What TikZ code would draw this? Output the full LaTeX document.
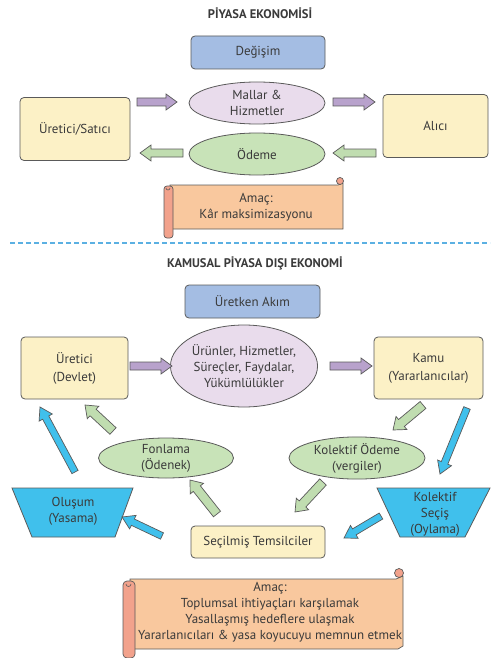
\documentclass[tikz,border=0pt]{standalone}
\usepackage{fontspec}
\setmainfont{PT Sans}
\usetikzlibrary{shapes.geometric,calc}
\definecolor{txt}{HTML}{3A3A3A}
\definecolor{bord}{HTML}{5A5A5A}
\definecolor{ylw}{HTML}{FCF1C6}
\definecolor{bluebox}{HTML}{A4BDE3}
\definecolor{pell}{HTML}{E9DCEC}
\definecolor{parr}{HTML}{B8A2CC}
\definecolor{gell}{HTML}{C8E3B8}
\definecolor{garr}{HTML}{C0DDB0}
\definecolor{cyanb}{HTML}{40C0EC}
\definecolor{peach}{HTML}{F9C89E}
\definecolor{salmon}{HTML}{F2A28C}
\definecolor{dashb}{HTML}{5BB0E2}
% #1 fill, #2 from, #3 to, #4 shaft half width, #5 head half width, #6 head length
\newcommand\fatarrow[6]{%
  \path[draw=bord, line width=0.7pt, fill=#1, line join=miter]
    let \p1=(#2), \p2=(#3), \n1={atan2(\y2-\y1,\x2-\x1)}, \n2={veclen(\x2-\x1,\y2-\y1)} in
    [shift={(\p1)}, rotate=\n1]
    (0,-#4) -- ({\n2-#6},-#4) -- ({\n2-#6},-#5) -- (\n2,0) -- ({\n2-#6},#5) -- ({\n2-#6},#4) -- (0,#4) -- cycle;}
\begin{document}
\begin{tikzpicture}[x=1pt,y=-1pt,
  font=\fontsize{13}{16}\selectfont, text=txt,
  box/.style={draw=bord, line width=0.8pt, rounded corners=4pt, fill=ylw, align=center, inner sep=0pt},
  ell/.style={ellipse, draw=bord, line width=0.8pt, align=center, inner sep=0pt},
  ttl/.style={font=\fontsize{12.5}{15}\selectfont\bfseries},
  trap/.style={draw=bord, line width=0.8pt, fill=cyanb}]
\useasboundingbox (0,0) rectangle (490,658);

% ---------- Piyasa ekonomisi ----------
\node[ttl] (t1) at (260,13) {PİYASA EKONOMİSİ};
\node[box, fill=bluebox, minimum width=134pt, minimum height=33pt] (degisim) at (258,52.5) {Değişim};
\node[ell, fill=pell, minimum width=136pt, minimum height=42pt] (mallar) at (257,103) {Mallar \&\\Hizmetler};
\node[ell, fill=gell, minimum width=136pt, minimum height=42pt] (odeme) at (257,154) {Ödeme};
\node[box, minimum width=110pt, minimum height=63pt] (uretici1) at (75,129) {Üretici/Satıcı};
\node[box, minimum width=105pt, minimum height=63pt] (alici) at (435.5,126) {Alıcı};

\coordinate (a1s) at (137,102); \coordinate (a1e) at (177,102);
\coordinate (a2s) at (333,102); \coordinate (a2e) at (375,102);
\coordinate (a3s) at (183,153); \coordinate (a3e) at (140,153);
\coordinate (a4s) at (376,153); \coordinate (a4e) at (333,153);
\fatarrow{parr}{a1s}{a1e}{4}{8}{11}
\fatarrow{parr}{a2s}{a2e}{4}{8}{11}
\fatarrow{garr}{a3s}{a3e}{4}{8}{11}
\fatarrow{garr}{a4s}{a4e}{4}{8}{11}

% scroll 1
\draw[fill=peach, line width=0.7pt, draw=bord] (170,185) -- (338,185) -- (343,183) -- (343,229) -- (170,229) -- cycle;
\draw[fill=salmon, line width=0.7pt, draw=bord] (340,181) circle (3.5);
\draw[fill=salmon, line width=0.7pt, draw=bord, rounded corners=3pt] (164,186) -- (164,238) -- (173,238) -- (173,186) -- cycle;
\draw[line width=0.6pt, draw=bord] (166,188) arc (180:0:2);
\node[align=center] (amac1) at (256,207) {Amaç:\\Kâr maksimizasyonu};

% dashed separator
\coordinate (dl) at (10,243); \coordinate (dr) at (490,243);
\draw[dashb, line width=1.3pt, dash pattern=on 5pt off 3pt] (dl) -- (dr);

% ---------- Kamusal piyasa disi ekonomi ----------
\node[ttl] (t2) at (255,263) {KAMUSAL PİYASA DIŞI EKONOMİ};
\node[box, fill=bluebox, minimum width=135pt, minimum height=33pt] (akim) at (252.5,301.5) {Üretken Akım};
\node[ell, fill=pell, minimum width=140pt, minimum height=82pt] (urunler) at (244,366) {Ürünler, Hizmetler,\\Süreçler, Faydalar,\\Yükümlülükler};
\node[box, minimum width=107pt, minimum height=62pt, font=\fontsize{13}{18}\selectfont] (devlet) at (74.5,368) {Üretici\\(Devlet)};
\node[box, minimum width=109pt, minimum height=62pt, font=\fontsize{13}{18}\selectfont] (kamu) at (428.5,368) {Kamu\\(Yararlanıcılar)};
\node[ell, fill=gell, minimum width=135pt, minimum height=40pt] (fonlama) at (166,458) {Fonlama\\(Ödenek)};
\node[ell, fill=gell, minimum width=136pt, minimum height=40pt] (kodeme) at (357,458) {Kolektif Ödeme\\(vergiler)};
\node[box, minimum width=134pt, minimum height=32pt] (secilmis) at (258,542) {Seçilmiş Temsilciler};

\draw[trap] (12,488) -- (133,488) -- (115,537) -- (32,537) -- cycle;
\node[align=center] (olusum) at (73,511) {Oluşum\\(Yasama)};
\draw[trap] (377,488) -- (490,488) -- (465,537) -- (400,537) -- cycle;
\node[align=center] (kseçis) at (435,514) {Kolektif\\Seçiş\\(Oylama)};

\coordinate (b1s) at (130,366); \coordinate (b1e) at (172,366);
\coordinate (b2s) at (330,366); \coordinate (b2e) at (372,366);
\fatarrow{parr}{b1s}{b1e}{4}{8}{11}
\fatarrow{parr}{b2s}{b2e}{4}{8}{11}

\coordinate (g1s) at (113,431); \coordinate (g1e) at (85,405);
\coordinate (g2s) at (423,405); \coordinate (g2e) at (393,430);
\coordinate (g3s) at (217,514); \coordinate (g3e) at (190,480);
\coordinate (g4s) at (323,482); \coordinate (g4e) at (295,512);
\fatarrow{garr}{g1s}{g1e}{4.5}{8.5}{11}
\fatarrow{garr}{g2s}{g2e}{4.5}{8.5}{11}
\fatarrow{garr}{g3s}{g3e}{4.5}{8.5}{11}
\fatarrow{garr}{g4s}{g4e}{4.5}{8.5}{11}

\coordinate (c1s) at (75,472); \coordinate (c1e) at (40,407);
\coordinate (c2s) at (467,408); \coordinate (c2e) at (440,474);
\coordinate (c3s) at (162,536); \coordinate (c3e) at (122,517);
\coordinate (c4s) at (381,516); \coordinate (c4e) at (344,538);
\fatarrow{cyanb}{c1s}{c1e}{3.5}{7.5}{12}
\fatarrow{cyanb}{c2s}{c2e}{3.5}{7.5}{12}
\fatarrow{cyanb}{c3s}{c3e}{3.5}{7.5}{12}
\fatarrow{cyanb}{c4s}{c4e}{3.5}{7.5}{12}

% scroll 2
\draw[fill=peach, line width=0.7pt, draw=bord] (130,579) -- (396,579) -- (403,576) -- (403,646) -- (398,649) -- (130,649) -- cycle;
\draw[fill=salmon, line width=0.7pt, draw=bord] (399,573) circle (4.5);
\draw[fill=salmon, line width=0.7pt, draw=bord, rounded corners=4pt] (123,581) -- (123,658) -- (135,658) -- (135,581) -- cycle;
\draw[line width=0.6pt, draw=bord] (126,584) arc (180:0:2.5);
\node[align=center] (amac2) at (270,612) {Amaç:\\Toplumsal ihtiyaçları karşılamak\\Yasallaşmış hedeflere ulaşmak\\Yararlanıcıları \& yasa koyucuyu memnun etmek};
\end{tikzpicture}
\end{document}
